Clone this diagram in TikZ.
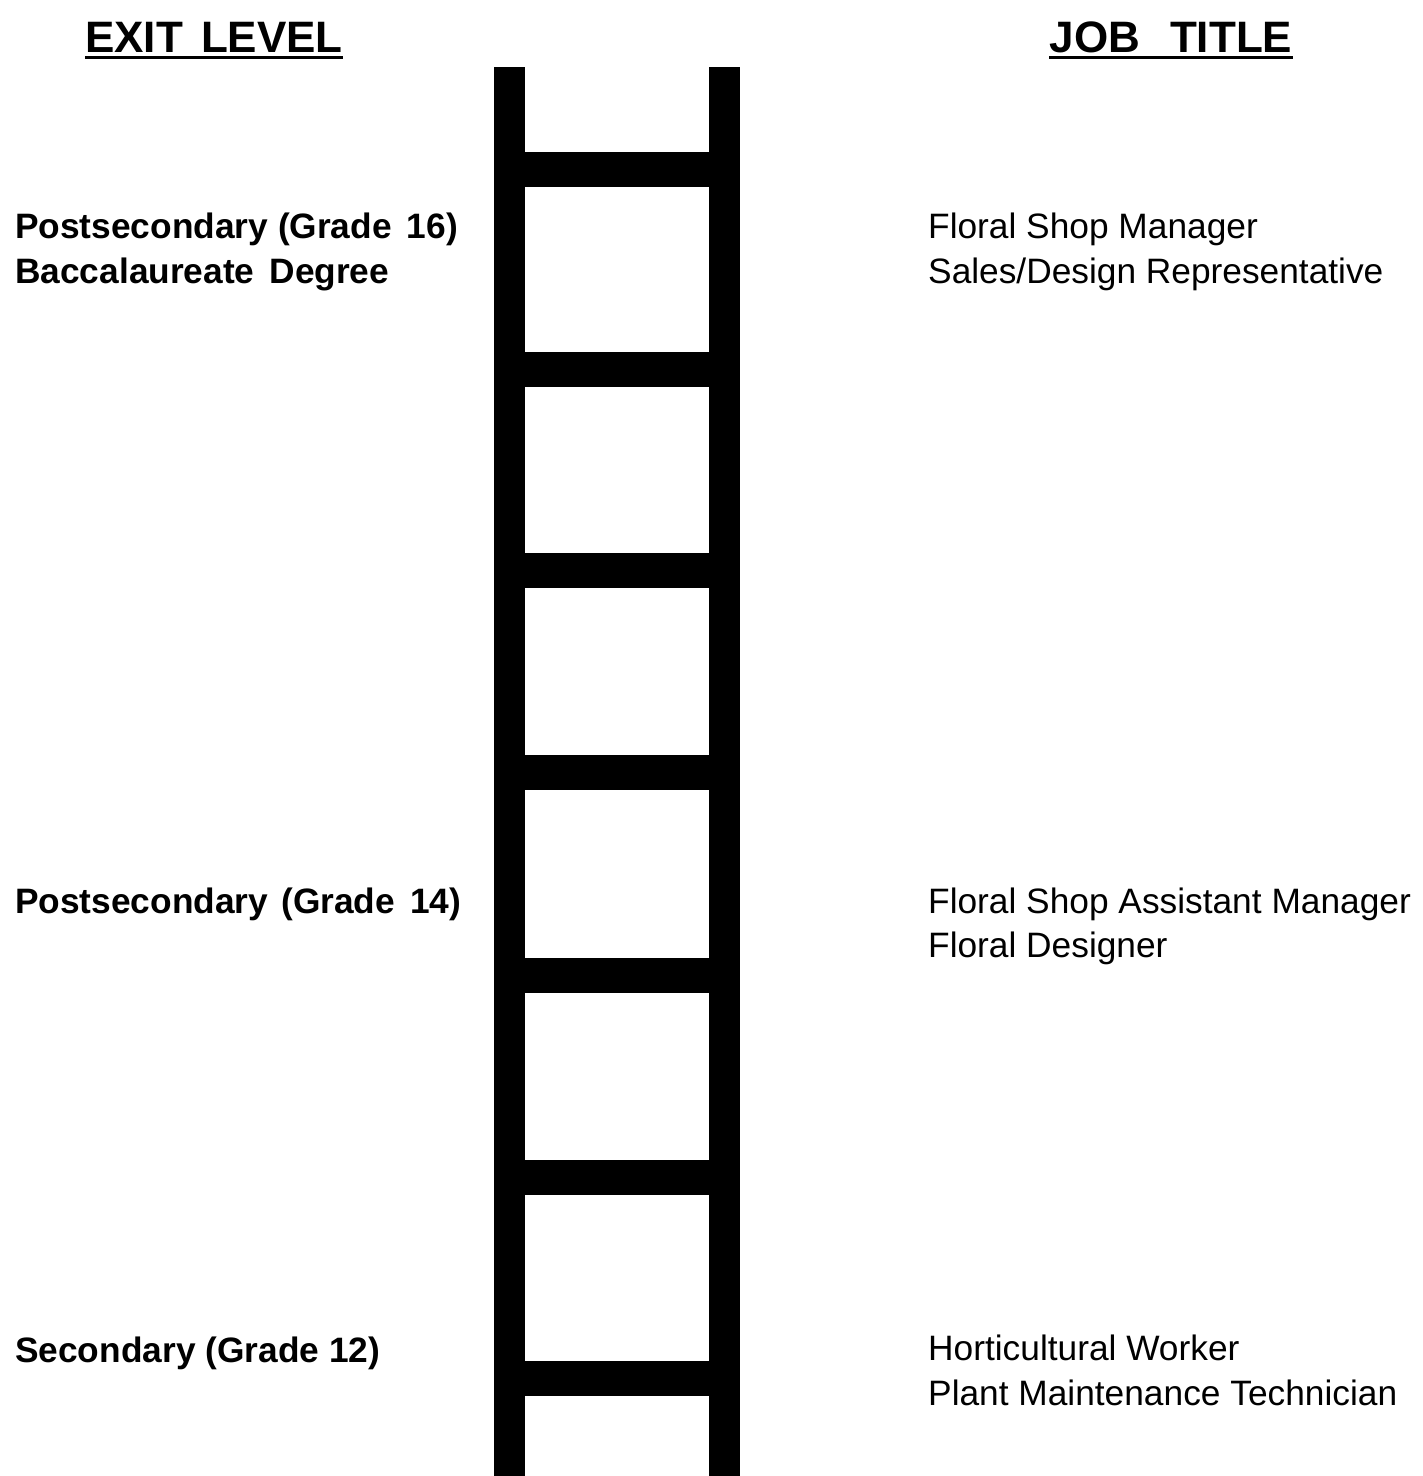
\documentclass[tikz,border=0pt]{standalone}
\usepackage{fontspec}
\setmainfont{Liberation Sans}
\begin{document}
\begin{tikzpicture}[x=1pt,y=-1pt,
  header/.style={anchor=base, inner sep=0pt, font=\fontsize{44}{48}\selectfont\bfseries},
  levellabel/.style={anchor=base west, inner sep=0pt, font=\fontsize{35.3}{45}\selectfont\bfseries},
  joblabel/.style={anchor=base west, inner sep=0pt, font=\fontsize{35.3}{45}\selectfont},
  ulineheader/.style={line width=3pt},
  rail/.style={fill=black, draw=none}]
\useasboundingbox (0,0) rectangle (1423,1476);
% headers
\node[header] (hexit) at (214,52) {EXIT\hspace{18pt}LEVEL};
\node[header] (hjob) at (1171,52) {JOB\hspace{30pt}TITLE};
\draw[ulineheader] ([yshift=-5pt]hexit.base west) -- ([yshift=-5pt]hexit.base east);
\draw[ulineheader] ([yshift=-5pt]hjob.base west) -- ([yshift=-5pt]hjob.base east);
% ladder rails
\fill[rail] (494,67) rectangle (525,1476);
\fill[rail] (709,67) rectangle (740,1476);
% rungs
\foreach \t in {152,352,553,755,958,1160,1361}{
  \fill[rail] (520,\t) rectangle (714,\t+35);
}
% exit levels
\node[levellabel] (l16a) at (15,238) {Postsecondary (Grade\hspace{15pt}16)};
\node[levellabel] (l16b) at (15,283) {Baccalaureate\hspace{15pt}Degree};
\node[levellabel] (l14) at (15,913) {Postsecondary\hspace{13pt}(Grade\hspace{15pt}14)};
\node[levellabel] (l12) at (15,1362) {Secondary (Grade 12)};
% job titles
\node[joblabel] (j16a) at (928,238) {Floral Shop Manager};
\node[joblabel] (j16b) at (928,283) {Sales/Design Representative};
\node[joblabel] (j14a) at (928,913) {Floral Shop Assistant Manager};
\node[joblabel] (j14b) at (928,957) {Floral Designer};
\node[joblabel] (j12a) at (928,1360) {Horticultural Worker};
\node[joblabel] (j12b) at (928,1405) {Plant Maintenance Technician};
\end{tikzpicture}
\end{document}
